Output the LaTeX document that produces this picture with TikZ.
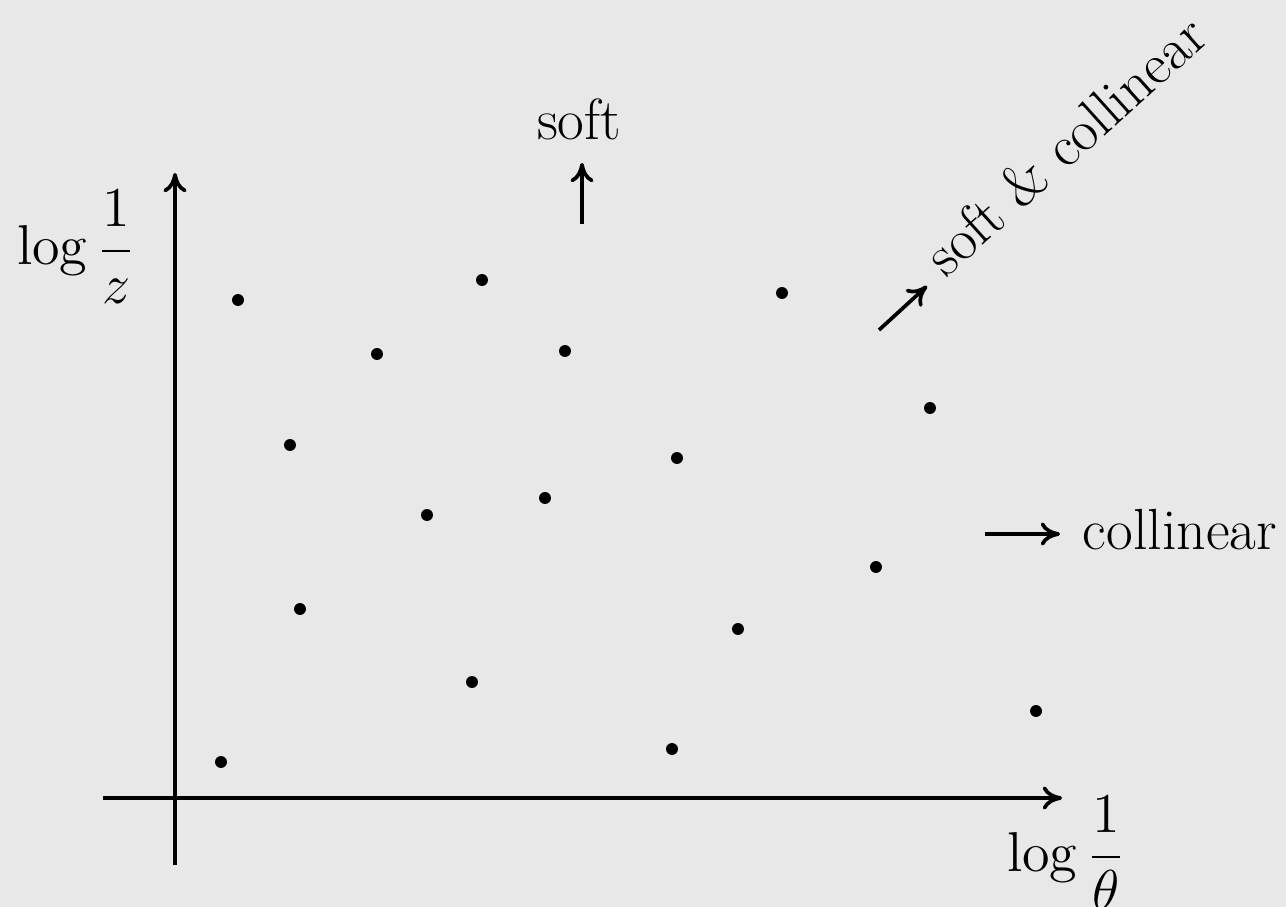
\documentclass[tikz,border=0pt]{standalone}
\usetikzlibrary{arrows.meta}

\begin{document}
\begin{tikzpicture}[x=0.01cm, y=-0.01cm, line width=1.05pt,
    >={To[length=5.5pt,width=6.6pt]},
    font=\fontsize{16.5}{20}\selectfont]
  \definecolor{bg}{HTML}{E8E8E8}
  \fill[bg] (0,0) rectangle (1286,907);
  \useasboundingbox (0,0) rectangle (1286,907);

  % Axes: angle to the right, energy fraction upwards.
  \coordinate (O) at (175,798);
  \coordinate (xs) at (103,798);
  \coordinate (xe) at (1062,798);
  \coordinate (ys) at (175,865);
  \coordinate (ye) at (175,173);
  \draw[->] (xs) -- (xe);
  \draw[->] (ys) -- (ye);
  \tikzset{axislabel/.style={anchor=base west, font=\fontsize{14.4}{17}\selectfont,
      scale=1.11, transform shape}}
  \node[axislabel] (logz) at (2,265) {$\displaystyle\log\frac{1}{z}$};
  \node[axislabel] (logtheta) at (992,871) {$\displaystyle\log\frac{1}{\theta}$};

  % Emissions.
  \foreach \x/\y in {238/300, 482/280, 782/293, 377/354, 565/351, 930/408,
                     290/445, 677/458, 427/515, 545/498, 876/567, 300/609,
                     738/629, 472/682, 1036/711, 221/762, 672/749}
    \fill (\x,\y) circle[radius=1.7pt];

  % Limits.
  \tikzset{limit/.style={inner sep=6pt}}
  \node[limit, anchor=south] (soft) at (579,163) {soft};
  \coordinate (softtail) at (582,224);
  \draw[->] (softtail) -- (softtail |- soft.south);

  \node[limit, anchor=base west] (coll) at (1060,549) {collinear};
  \coordinate (colltail) at (985,534);
  \draw[->] (colltail) -- (colltail -| coll.west);

  \node[limit, inner sep=5pt, anchor=mid west, rotate=42] (softcoll) at (927,286) {soft \& collinear};
  \coordinate (softcolltail) at (879,330);
  \draw[->] (softcolltail) -- (softcoll.mid west);
\end{tikzpicture}
\end{document}
